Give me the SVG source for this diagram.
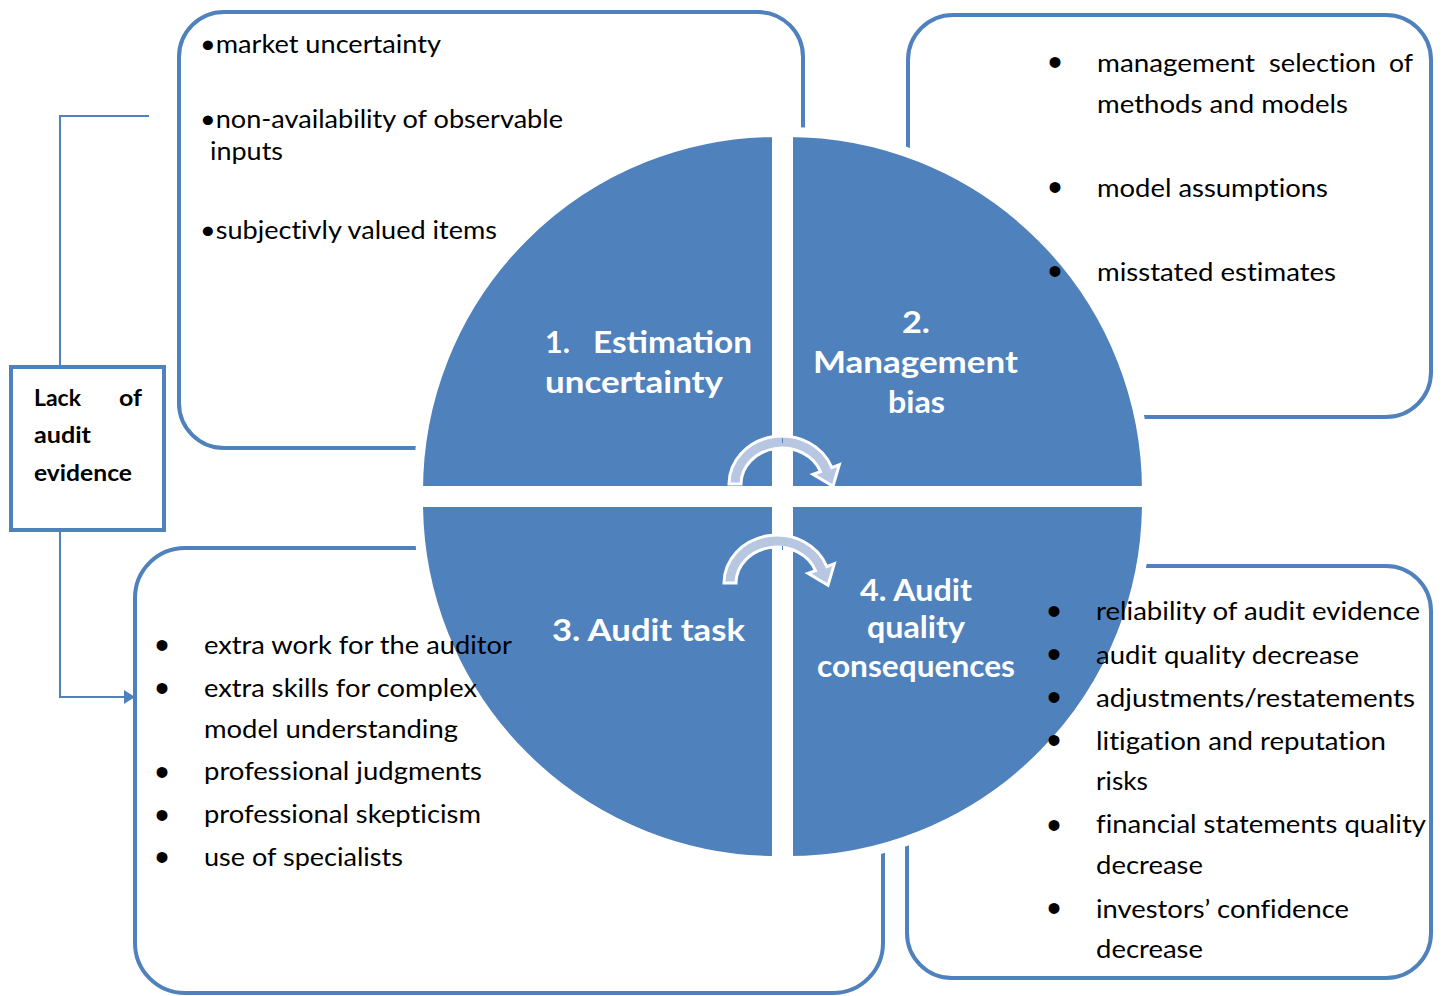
<svg xmlns="http://www.w3.org/2000/svg" xmlns:xlink="http://www.w3.org/1999/xlink" width="1442" height="996" viewBox="0 0 1442 996">
<style>
.quad{fill:#4F81BD;stroke:#FFFFFF;stroke-width:10;stroke-linejoin:miter}
.box{fill:none;stroke:#4F81BD;stroke-width:4}
.conn{fill:none;stroke:#4F81BD;stroke-width:2}
.carrow{fill:#B7C6E1;stroke:#FFFFFF;stroke-width:3;stroke-linejoin:miter}
.body{font-family:Lato,"Open Sans",sans-serif;font-size:25px;fill:#000000;font-variant-ligatures:none}
.bul{font-family:"Liberation Sans",Arial,sans-serif;font-size:40px;fill:#000000;text-anchor:middle}
.label{font-family:Lato,"Open Sans",sans-serif;font-weight:bold;font-size:30px;fill:#FFFFFF}
.lack{font-family:Lato,"Open Sans",sans-serif;font-weight:bold;font-size:22px;fill:#000000}
</style>
<defs>
<path id="p1" d="M 777 491 L 418 491 A 359 359 0 0 1 777 132 Z"/>
<path id="p2" d="M 788 491 L 788 132 A 359 359 0 0 1 1147 491 Z"/>
<path id="p3" d="M 777 502 L 777 861 A 359 359 0 0 1 418 502 Z"/>
<path id="p4" d="M 788 502 L 1147 502 A 359 359 0 0 1 788 861 Z"/>
<mask id="outside" maskUnits="userSpaceOnUse" x="0" y="0" width="1442" height="996">
<rect x="0" y="0" width="1442" height="996" fill="#FFFFFF"/>
<use xlink:href="#p1" fill="#000000" stroke="#000000" stroke-width="10"/>
<use xlink:href="#p2" fill="#000000" stroke="#000000" stroke-width="10"/>
<use xlink:href="#p3" fill="#000000" stroke="#000000" stroke-width="10"/>
<use xlink:href="#p4" fill="#000000" stroke="#000000" stroke-width="10"/>
</mask>
<marker id="tri" markerUnits="userSpaceOnUse" markerWidth="12" markerHeight="14" refX="0" refY="7" orient="auto" viewBox="0 0 12 14">
<path d="M 0 0 L 11 7 L 0 14 Z" fill="#4F81BD"/>
</marker>
<path id="curve" d="M 729 484 A 53 48 0 0 1 831.8 467.6 L 839.3 464.8 L 833 486.3 L 813 474.4 L 820.5 471.7 A 41 36 0 0 0 741 484 Z"/>
</defs>
<rect x="0" y="0" width="1442" height="996" fill="#FFFFFF"/>

<g id="q1-estimation-uncertainty">
<use xlink:href="#p1" class="quad"/>
<text class="label" x="545" y="353" textLength="25" lengthAdjust="spacingAndGlyphs">1.</text>
<text class="label" x="593" y="353" textLength="159" lengthAdjust="spacingAndGlyphs">Estimation</text>
<text class="label" x="545" y="393" textLength="178" lengthAdjust="spacingAndGlyphs">uncertainty</text>
</g>
<g id="q2-management-bias">
<use xlink:href="#p2" class="quad"/>
<text class="label" x="902" y="333" textLength="28" lengthAdjust="spacingAndGlyphs">2.</text>
<text class="label" x="813" y="373" textLength="205" lengthAdjust="spacingAndGlyphs">Management</text>
<text class="label" x="888" y="413" textLength="57" lengthAdjust="spacingAndGlyphs">bias</text>
</g>
<g id="q3-audit-task">
<use xlink:href="#p3" class="quad"/>
<text class="label" x="552" y="641" textLength="193" lengthAdjust="spacingAndGlyphs">3. Audit task</text>
</g>
<g id="q4-audit-quality-consequences">
<use xlink:href="#p4" class="quad"/>
<text class="label" x="860" y="601" textLength="112" lengthAdjust="spacingAndGlyphs">4. Audit</text>
<text class="label" x="867" y="638" textLength="98" lengthAdjust="spacingAndGlyphs">quality</text>
<text class="label" x="817" y="677" textLength="198" lengthAdjust="spacingAndGlyphs">consequences</text>
</g>

<g id="connectors">
<use xlink:href="#curve" class="carrow"/>
<use xlink:href="#curve" class="carrow" transform="translate(-5,99)"/>
<polyline class="conn" points="149,116 60,116 60,367"/>
<polyline class="conn" points="60,530 60,697 124,697" marker-end="url(#tri)"/>
</g>

<g id="box1-estimation-sources">
<rect class="box" x="179" y="12" width="624" height="436" rx="45" ry="45" mask="url(#outside)"/>
<text class="body" x="200" y="53" textLength="241" lengthAdjust="spacingAndGlyphs">•market uncertainty</text>
<text class="body" x="200" y="128" textLength="363" lengthAdjust="spacingAndGlyphs">•non-availability of observable</text>
<text class="body" x="210" y="160" textLength="73" lengthAdjust="spacingAndGlyphs">inputs</text>
<text class="body" x="200" y="239" textLength="297" lengthAdjust="spacingAndGlyphs">•subjectivly valued items</text>
</g>

<g id="box2-management-bias-sources">
<rect class="box" x="908" y="15" width="523" height="402" rx="45" ry="45" mask="url(#outside)"/>
<text class="bul" x="1055" y="76">•</text>
<text class="body" x="1097" y="72" textLength="158" lengthAdjust="spacingAndGlyphs">management</text>
<text class="body" x="1269" y="72" textLength="107" lengthAdjust="spacingAndGlyphs">selection</text>
<text class="body" x="1389" y="72" textLength="24" lengthAdjust="spacingAndGlyphs">of</text>
<text class="body" x="1097" y="113" textLength="251" lengthAdjust="spacingAndGlyphs">methods and models</text>
<text class="bul" x="1055" y="201">•</text>
<text class="body" x="1097" y="197" textLength="231" lengthAdjust="spacingAndGlyphs">model assumptions</text>
<text class="bul" x="1055" y="285">•</text>
<text class="body" x="1097" y="281" textLength="239" lengthAdjust="spacingAndGlyphs">misstated estimates</text>
</g>

<g id="box3-audit-task-items">
<rect class="box" x="135" y="548" width="748" height="445" rx="50" ry="50" mask="url(#outside)"/>
<text class="bul" x="162" y="659">•</text>
<text class="body" x="204" y="654" textLength="308" lengthAdjust="spacingAndGlyphs">extra work for the auditor</text>
<text class="bul" x="162" y="702">•</text>
<text class="body" x="204" y="697" textLength="273" lengthAdjust="spacingAndGlyphs">extra skills for complex</text>
<text class="body" x="204" y="738" textLength="254" lengthAdjust="spacingAndGlyphs">model understanding</text>
<text class="bul" x="162" y="786">•</text>
<text class="body" x="204" y="780" textLength="278" lengthAdjust="spacingAndGlyphs">professional judgments</text>
<text class="bul" x="162" y="829">•</text>
<text class="body" x="204" y="823" textLength="277" lengthAdjust="spacingAndGlyphs">professional skepticism</text>
<text class="bul" x="162" y="871">•</text>
<text class="body" x="204" y="866" textLength="199" lengthAdjust="spacingAndGlyphs">use of specialists</text>
</g>

<g id="box4-consequences-items">
<rect class="box" x="907" y="566" width="524" height="412" rx="45" ry="45" mask="url(#outside)"/>
<text class="bul" x="1054" y="625">•</text>
<text class="body" x="1096" y="620" textLength="324" lengthAdjust="spacingAndGlyphs">reliability of audit evidence</text>
<text class="bul" x="1054" y="668">•</text>
<text class="body" x="1096" y="664" textLength="263" lengthAdjust="spacingAndGlyphs">audit quality decrease</text>
<text class="bul" x="1054" y="711">•</text>
<text class="body" x="1096" y="707" textLength="319" lengthAdjust="spacingAndGlyphs">adjustments/restatements</text>
<text class="bul" x="1054" y="754">•</text>
<text class="body" x="1096" y="750" textLength="290" lengthAdjust="spacingAndGlyphs">litigation and reputation</text>
<text class="body" x="1096" y="790" textLength="52" lengthAdjust="spacingAndGlyphs">risks</text>
<text class="bul" x="1054" y="839">•</text>
<text class="body" x="1096" y="833" textLength="330" lengthAdjust="spacingAndGlyphs">financial statements quality</text>
<text class="body" x="1096" y="874" textLength="107" lengthAdjust="spacingAndGlyphs">decrease</text>
<text class="bul" x="1054" y="922">•</text>
<text class="body" x="1096" y="918" textLength="253" lengthAdjust="spacingAndGlyphs">investors’ confidence</text>
<text class="body" x="1096" y="958" textLength="107" lengthAdjust="spacingAndGlyphs">decrease</text>
</g>

<g id="lack-of-audit-evidence">
<rect x="11" y="367" width="153" height="163" fill="none" stroke="#4F81BD" stroke-width="4"/>
<text class="lack" x="34" y="406" textLength="47" lengthAdjust="spacingAndGlyphs">Lack</text>
<text class="lack" x="119" y="406" textLength="23" lengthAdjust="spacingAndGlyphs">of</text>
<text class="lack" x="34" y="443" textLength="57" lengthAdjust="spacingAndGlyphs">audit</text>
<text class="lack" x="34" y="481" textLength="98" lengthAdjust="spacingAndGlyphs">evidence</text>
</g>
</svg>
